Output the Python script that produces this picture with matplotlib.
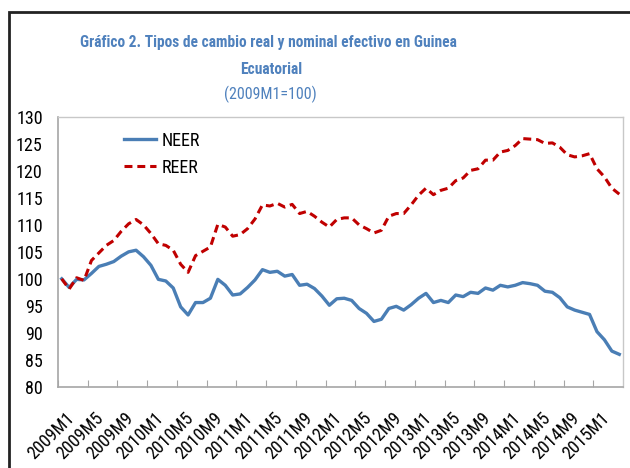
import matplotlib
matplotlib.use("Agg")
import matplotlib.pyplot as plt
from matplotlib.patches import Rectangle

years = list(range(2009, 2016))
categories = [f"{y}M{m}" for y in years for m in range(1, 13)][:76]

neer = [100.0, 98.4, 99.9, 99.8, 101.0, 102.3, 102.7, 103.2, 104.2, 105.0,
        105.3, 104.1, 102.5, 99.9, 99.6, 98.3, 94.8, 93.3, 95.6, 95.6,
        96.4, 99.9, 98.8, 97.0, 97.2, 98.4, 99.8, 101.7, 101.2, 101.4,
        100.5, 100.8, 98.8, 99.0, 98.2, 96.8, 95.1, 96.3, 96.4, 96.0,
        94.5, 93.6, 92.1, 92.5, 94.5, 94.9, 94.2, 95.2, 96.4, 97.3,
        95.6, 96.0, 95.6, 97.0, 96.7, 97.5, 97.3, 98.3, 97.9, 98.8,
        98.5, 98.8, 99.3, 99.1, 98.8, 97.7, 97.5, 96.5, 94.8, 94.2,
        93.8, 93.4, 90.2, 88.7, 86.6, 86.0]

reer = [100.0, 98.1, 100.2, 99.7, 103.4, 104.8, 106.2, 107.1, 108.8, 110.2,
        111.0, 110.0, 108.4, 106.5, 106.2, 105.3, 102.7, 101.2, 104.3, 105.1,
        105.9, 110.1, 109.6, 107.9, 108.2, 109.3, 111.1, 113.7, 113.5, 114.0,
        113.3, 113.8, 112.1, 112.5, 111.6, 110.5, 109.6, 111.0, 111.3, 111.3,
        110.0, 109.3, 108.5, 109.0, 111.6, 112.1, 112.1, 113.7, 115.5, 116.8,
        115.6, 116.4, 116.8, 118.2, 118.7, 120.1, 120.4, 122.0, 122.0, 123.5,
        123.8, 124.7, 126.0, 125.9, 125.8, 125.1, 125.2, 124.4, 123.0, 122.6,
        122.8, 123.2, 120.4, 118.9, 116.8, 115.7]

yticks = list(range(80, 131, 5))
title1 = "Gráfico 2. Tipos de cambio real y nominal efectivo en Guinea"
title2 = "Ecuatorial"
subtitle = "(2009M1=100)"

FONT = ["Liberation Sans Narrow", "Roboto Condensed", "Open Sans Condensed", "DejaVu Sans"]
plt.rcParams["font.family"] = FONT

blue = "#4A7EB5"
red = "#C00000"
tcol = "#4F81BD"

fig = plt.figure(figsize=(6.3, 4.68), dpi=100)
fig.patch.set_facecolor("white")
fig.patches.append(Rectangle((9 / 630, -0.1), 1.2, 1 - 12 / 468 + 0.1,
                             transform=fig.transFigure, fill=False,
                             edgecolor="#222222", linewidth=2))

ax = fig.add_axes([58 / 630, 1 - 386.7 / 468, (623 - 58) / 630, (386.7 - 117) / 468])
x = list(range(len(categories)))
ax.plot(x, neer, color=blue, linewidth=2.4, label="NEER", solid_joinstyle="round")
ax.plot(x, reer, color=red, linewidth=2.2, linestyle=(0, (2.6, 1.6)), label="REER")

ax.set_xlim(-0.5, len(categories) - 0.5)
ax.set_ylim(80, 130)
ax.set_yticks(yticks)
ax.set_yticklabels([str(v) for v in yticks], fontsize=13)
ax.tick_params(axis="y", length=0, pad=11)

ax.set_xticks([i - 0.5 for i in range(0, len(categories), 4)])
ax.set_xticklabels([])
ax.tick_params(axis="x", which="major", direction="in", length=5, color="#A6A6A6")
lab_idx = list(range(0, len(categories), 4))
ax.set_xticks([i + 0.45 for i in lab_idx], minor=True)
ax.set_xticklabels([categories[i] for i in lab_idx], minor=True, fontsize=13,
                   rotation=45, ha="right", va="top", rotation_mode="anchor")
ax.tick_params(axis="x", which="minor", length=0, pad=16)

for s in ["left", "bottom"]:
    ax.spines[s].set_color("#A6A6A6")
    ax.spines[s].set_linewidth(1.2)
for s in ["top", "right"]:
    ax.spines[s].set_color("#C8C8C8")
    ax.spines[s].set_linewidth(1.0)

ax.legend(loc="upper left", bbox_to_anchor=(0.104, 0.973), frameon=False,
          borderaxespad=0, fontsize=13, handlelength=1.8, handletextpad=0.3,
          labelspacing=0.5)

fig.text(268 / 630, 1 - 43 / 468, title1, ha="center", va="center",
         fontsize=11.2, fontweight="bold", color=tcol)
fig.text(271 / 630, 1 - 70 / 468, title2, ha="center", va="center",
         fontsize=11.2, fontweight="bold", color=tcol)
fig.text(270 / 630, 1 - 94 / 468, subtitle, ha="center", va="center",
         fontsize=11.5, color=tcol)

fig.savefig("out.png", dpi=100, facecolor="white")
